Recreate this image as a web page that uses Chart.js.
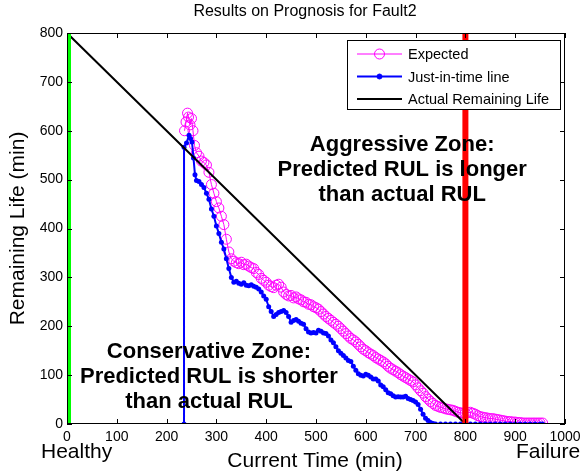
<!DOCTYPE html>
<html lang="en">
<head>
    <meta charset="UTF-8" />
    <title>Results on Prognosis for Fault2</title>
    <script src="https://cdn.jsdelivr.net/npm/chart.js"></script>
    <style>
        html, body { margin: 0; padding: 0; background: #fff; }
        .chart-box { width: 580px; height: 473px; position: relative; }
    </style>
</head>
<body>
    <div class="chart-box">
        <canvas id="prognosisChart"></canvas>
    </div>

    <script>
        // Expected RUL (magenta circles)
        const expectedTime = [236, 239, 242, 244, 247, 250, 253, 256,
            260, 265, 270, 275, 280, 285, 290, 295, 300, 305, 310, 315, 320, 325, 330, 335, 340, 345, 350, 355,
            360, 365, 370, 375, 380, 385, 390, 395, 400, 405, 410, 415, 420, 425, 430, 435, 440, 445, 450, 455,
            460, 465, 470, 475, 480, 485, 490, 495, 500, 505, 510, 515, 520, 525, 530, 535, 540, 545, 550, 555,
            560, 565, 570, 575, 580, 585, 590, 595, 600, 605, 610, 615, 620, 625, 630, 635, 640, 645, 650, 655,
            660, 665, 670, 675, 680, 685, 690, 695, 700, 705, 710, 715, 720, 725, 730, 735, 740, 745, 750, 755,
            760, 765, 770, 775, 780, 785, 790, 795, 800, 805, 810, 815, 820, 825, 830, 835, 840, 845, 850, 855,
            860, 865, 870, 875, 880, 885, 890, 895, 900, 905, 910, 915, 920, 925, 930, 935, 940, 945, 950, 955];
        const expectedRul = [600, 618, 636, 628, 612, 625, 600, 570,
            555, 548, 538, 535, 530, 515, 490, 472, 455, 442, 425, 408, 378, 352, 338, 333, 330, 328, 331, 326,
            327, 323, 320, 318, 310, 306, 298, 294, 290, 284, 281, 279, 284, 286, 280, 270, 265, 262, 263, 258,
            260, 256, 254, 250, 249, 245, 244, 240, 238, 235, 230, 225, 220, 216, 212, 208, 204, 200, 195, 190,
            185, 180, 175, 172, 168, 163, 158, 153, 150, 146, 143, 140, 136, 133, 130, 127, 123, 118, 114, 111,
            108, 105, 101, 98, 95, 92, 89, 86, 80, 74, 68, 63, 56, 51, 46, 42, 38, 36, 34, 33,
            31, 30, 29, 28, 26, 24, 23, 22, 22, 23, 24, 22, 20, 17, 15, 14, 13, 12, 11, 11,
            10, 9, 8, 7, 6, 5, 5, 4, 4, 3, 3, 2, 2, 2, 2, 2, 2, 2, 2, 2];

        // Just-in-time line (blue dots)
        const jitTime = [235, 235, 240, 245, 248, 251, 254, 257, 260, 265, 270, 275, 280, 285, 290, 295,
            300, 305, 310, 315, 320, 325, 330, 335, 340, 345, 350, 355, 360, 365, 370, 375, 380, 385, 390, 395,
            400, 405, 410, 415, 420, 425, 430, 435, 440, 445, 450, 455, 460, 465, 470, 475, 480, 485, 490, 495,
            500, 505, 510, 515, 520, 525, 530, 535, 540, 545, 550, 555, 560, 565, 570, 575, 580, 585, 590, 595,
            600, 605, 610, 615, 620, 625, 630, 635, 640, 645, 650, 655, 660, 665, 670, 675, 680, 685, 690, 695,
            700, 705, 710, 715, 720, 725, 730, 735, 740, 750, 760, 770, 780, 790, 800, 810, 820, 830, 840, 850,
            860, 870, 880, 890, 900, 910, 920, 930, 940, 950, 955];
        const jitRul = [0, 566, 575, 591, 584, 577, 544, 510, 498, 496, 490, 484, 472, 460, 440, 425,
            405, 390, 372, 358, 338, 318, 300, 290, 292, 288, 286, 289, 284, 283, 285, 282, 280, 276, 270, 262,
            255, 240, 230, 220, 224, 228, 230, 232, 228, 220, 208, 212, 214, 210, 206, 204, 195, 188, 186, 187,
            186, 192, 190, 186, 185, 180, 172, 166, 158, 150, 145, 140, 135, 130, 128, 118, 110, 103, 100, 98,
            102, 100, 96, 92, 92, 88, 80, 76, 70, 64, 62, 58, 55, 56, 55, 55, 57, 52, 50, 48,
            45, 40, 30, 20, 12, 7, 3, 1, 0, 0, 0, 0, 0, 0, 0, 0, 0, 0, 0, 0,
            0, 0, 0, 0, 0, 0, 0, 0, 0, 0, 0];

        // Actual remaining life
        const actualTime = [0, 800, 955];
        const actualRul = [800, 0, 0];

        // Healthy / failure markers
        const healthyTime = [0, 0];
        const failureTime = [800, 800];
        const markerRul = [0, 800];

        const xTicks = [0, 100, 200, 300, 400, 500, 600, 700, 800, 900, 1000];
        const yTicks = [0, 100, 200, 300, 400, 500, 600, 700, 800];

        const zip = (xs, ys) => xs.map((x, i) => ({ x: x, y: ys[i] }));

        const FONT = 'Arial, "Liberation Sans", sans-serif';

        // text notes placed in data units
        const notes = [
            { x: 673, y: 570, lines: ['Aggressive Zone:', 'Predicted RUL is longer', 'than actual RUL'] },
            { x: 285, y: 147, lines: ['Conservative Zone:', 'Predicted RUL is shorter', 'than actual RUL'] }
        ];

        const matlabFrame = {
            id: 'matlabFrame',
            afterDatasetsDraw(chart) {
                const ctx = chart.ctx;
                const a = chart.chartArea;
                const xs = chart.scales.x, ys = chart.scales.y;
                ctx.save();
                ctx.strokeStyle = '#000';
                ctx.lineWidth = 1;
                ctx.strokeRect(a.left + 0.5, a.top + 0.5, a.right - a.left - 1, a.bottom - a.top - 1);
                ctx.beginPath();
                xTicks.forEach(v => {
                    const px = Math.round(xs.getPixelForValue(v)) + 0.5;
                    ctx.moveTo(px, a.bottom); ctx.lineTo(px, a.bottom - 5);
                    ctx.moveTo(px, a.top); ctx.lineTo(px, a.top + 5);
                });
                yTicks.forEach(v => {
                    const py = Math.round(ys.getPixelForValue(v)) + 0.5;
                    ctx.moveTo(a.left, py); ctx.lineTo(a.left + 5, py);
                    ctx.moveTo(a.right, py); ctx.lineTo(a.right - 5, py);
                });
                ctx.stroke();

                // zone notes
                ctx.fillStyle = '#000';
                ctx.font = 'bold 22px ' + FONT;
                ctx.textAlign = 'center';
                ctx.textBaseline = 'middle';
                notes.forEach(n => {
                    const cx = xs.getPixelForValue(n.x);
                    const cy = ys.getPixelForValue(n.y);
                    n.lines.forEach((t, i) => ctx.fillText(t, cx, cy + i * 25));
                });

                // legend box
                const lx = 347, ly = 40, lw = 213, lh = 69;
                ctx.fillStyle = '#fff';
                ctx.fillRect(lx, ly, lw, lh);
                ctx.strokeStyle = '#000';
                ctx.lineWidth = 1;
                ctx.strokeRect(lx + 0.5, ly + 0.5, lw, lh);
                const shown = chart.data.datasets.filter(d => d.inLegend);
                ctx.font = '14.5px ' + FONT;
                ctx.textAlign = 'left';
                shown.forEach((d, i) => {
                    const yy = ly + 14 + i * 22.5;
                    ctx.strokeStyle = d.borderColor;
                    ctx.lineWidth = d.borderWidth;
                    ctx.beginPath();
                    ctx.moveTo(357, yy); ctx.lineTo(402, yy);
                    ctx.stroke();
                    if (d.pointRadius > 0) {
                        ctx.beginPath();
                        ctx.lineWidth = 1;
                        ctx.arc(379.5, yy, d.pointRadius, 0, Math.PI * 2);
                        ctx.fillStyle = d.pointBackgroundColor;
                        ctx.fill();
                        ctx.stroke();
                    }
                    ctx.fillStyle = '#000';
                    ctx.fillText(d.label, 408, yy + 1);
                });

                // axis words
                ctx.font = '16px ' + FONT;
                ctx.textAlign = 'center';
                ctx.fillText('Results on Prognosis for Fault2', 305, 12);
                ctx.font = '21px ' + FONT;
                ctx.fillText('Current Time (min)', 315, 461);
                ctx.textAlign = 'left';
                ctx.fillText('Healthy', 41, 452);
                ctx.fillText('Failure', 516, 452);
                ctx.save();
                ctx.translate(18, (a.top + a.bottom) / 2);
                ctx.rotate(-Math.PI / 2);
                ctx.textAlign = 'center';
                ctx.fillText('Remaining Life (min)', 0, 0);
                ctx.restore();
                ctx.restore();
            }
        };

        const ctx = document.getElementById('prognosisChart').getContext('2d');
        new Chart(ctx, {
            type: 'line',
            data: {
                datasets: [
                    {
                        label: 'Expected', inLegend: true,
                        data: zip(expectedTime, expectedRul),
                        borderColor: '#ff00ff', borderWidth: 1,
                        pointRadius: 5, pointBorderWidth: 1,
                        pointBorderColor: '#ff00ff', pointBackgroundColor: 'rgba(0,0,0,0)',
                        order: 4
                    },
                    {
                        label: 'Just-in-time line', inLegend: true,
                        data: zip(jitTime, jitRul),
                        borderColor: '#0000ff', borderWidth: 2,
                        pointRadius: 2.5, pointBorderWidth: 0,
                        pointBackgroundColor: '#0000ff',
                        order: 3
                    },
                    {
                        label: 'Actual Remaining Life', inLegend: true,
                        data: zip(actualTime, actualRul),
                        borderColor: '#000000', borderWidth: 2,
                        pointRadius: 0,
                        order: 2
                    },
                    {
                        label: 'Healthy',
                        data: zip(healthyTime, markerRul),
                        borderColor: '#00ff00', borderWidth: 8,
                        pointRadius: 0, clip: 0,
                        order: 1
                    },
                    {
                        label: 'Failure',
                        data: zip(failureTime, markerRul),
                        borderColor: '#ff0000', borderWidth: 6,
                        pointRadius: 0, clip: 0,
                        order: 1
                    }
                ]
            },
            options: {
                responsive: true,
                maintainAspectRatio: false,
                animation: false,
                events: [],
                layout: { padding: { left: 0, right: 15, top: 33, bottom: 0 } },
                plugins: { legend: { display: false }, tooltip: { enabled: false } },
                elements: { line: { tension: 0 } },
                scales: {
                    x: {
                        type: 'linear', min: 0, max: 1000,
                        afterFit: s => { s.height = 49; s.paddingLeft = 0; s.paddingRight = 0; },
                        afterBuildTicks: s => { s.ticks = xTicks.map(v => ({ value: v })); },
                        grid: { display: false, drawTicks: false },
                        border: { display: false },
                        ticks: {
                            color: '#000', font: { family: FONT, size: 14 }, padding: 5, maxRotation: 0,
                            callback: v => String(v)
                        }
                    },
                    y: {
                        type: 'linear', min: 0, max: 800,
                        afterFit: s => { s.width = 67; s.paddingTop = 0; s.paddingBottom = 0; },
                        afterBuildTicks: s => { s.ticks = yTicks.map(v => ({ value: v })); },
                        grid: { display: false, drawTicks: false },
                        border: { display: false },
                        ticks: { color: '#000', font: { family: FONT, size: 14 }, padding: 4 }
                    }
                }
            },
            plugins: [matlabFrame]
        });
    </script>
</body>
</html>
